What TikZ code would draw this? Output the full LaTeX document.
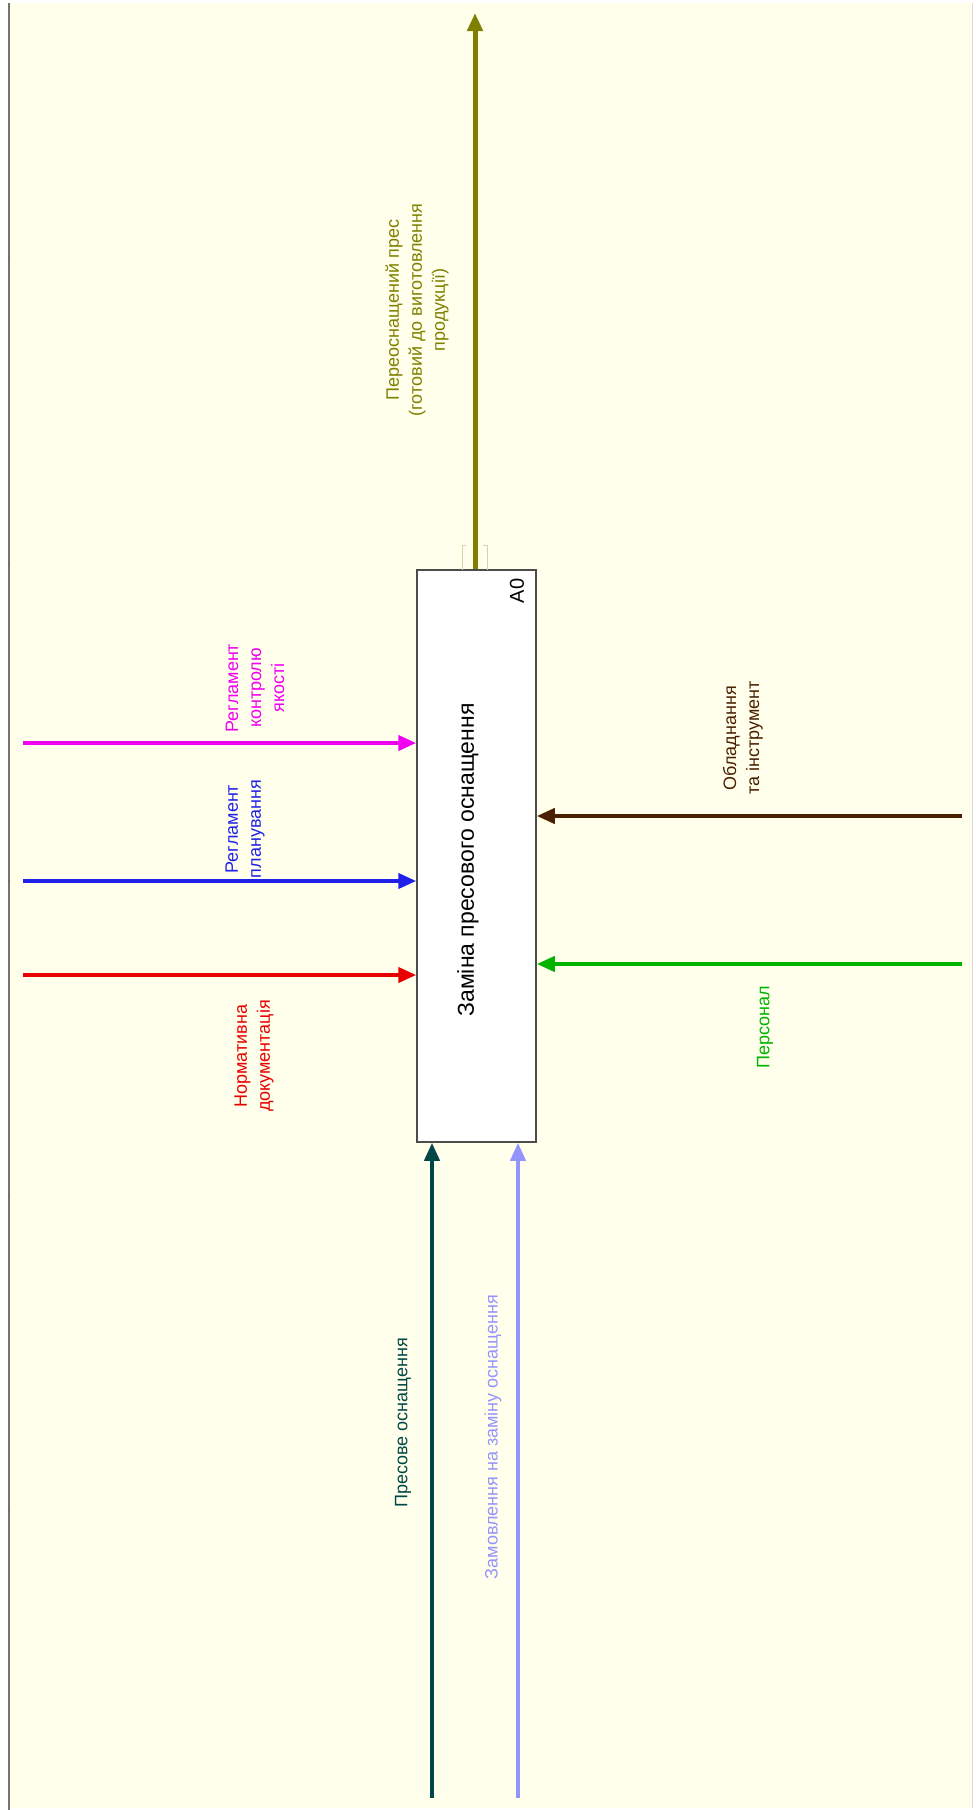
\documentclass[tikz,border=0pt]{standalone}
\usepackage{fontspec}
\setmainfont{Liberation Sans}
\usetikzlibrary{arrows.meta}
\definecolor{bg}{HTML}{FFFFEC}
\definecolor{colive}{HTML}{808000}
\definecolor{cmag}{HTML}{F000F0}
\definecolor{cblue}{HTML}{2020E8}
\definecolor{cred}{HTML}{E80000}
\definecolor{cbrown}{HTML}{4B2000}
\definecolor{cgreen}{HTML}{00B400}
\definecolor{cteal}{HTML}{004848}
\definecolor{clav}{HTML}{9494FF}
\begin{document}
\begin{tikzpicture}[x=1pt,y=-1pt,
  arr/.style={line width=4pt,-{Triangle[width=15pt,length=18pt]}},
  lbl/.style={rotate=90,align=center,font=\fontsize{18}{23}\selectfont}]
\useasboundingbox (0,0) rectangle (975,1810);
\fill[bg] (10,3) rectangle (972,1808);
\draw[line width=2pt,black!55] (9,3) -- (9,1810);
\draw[black!15] (972,3) -- (972,1808);
\foreach \t in {257,563,880,1195,1510} \draw[line width=1pt,black!60] (8,\t) -- (10,\t);

% activity box
\node[draw=black!70, fill=white, line width=1.5pt, minimum width=119pt, minimum height=572pt, inner sep=0pt] (A0) at (476.5,856) {};
\node[rotate=90, font=\fontsize{23}{27}\selectfont] (t0) at (468,860) {Заміна пресового оснащення};
\node[rotate=90, font=\fontsize{20}{24}\selectfont] (n0) at (517,591) {A0};

% controls
\coordinate (c1) at (23,743);
\coordinate (c2) at (23,881);
\coordinate (c3) at (23,975);
\draw[arr,cmag] (c1) -- (c1 -| A0.west);
\draw[arr,cblue] (c2) -- (c2 -| A0.west);
\draw[arr,cred] (c3) -- (c3 -| A0.west);
\node[lbl,cmag] (l1) at (255,688) {Регламент\\контролю\\якості};
\node[lbl,cblue] (l2) at (245,829) {Регламент\\планування};
\node[lbl,cred] (l3) at (254,1056) {Нормативна\\документація};

% mechanisms
\coordinate (m1) at (962,816);
\coordinate (m2) at (962,964);
\draw[arr,cbrown] (m1) -- (m1 -| A0.east);
\draw[arr,cgreen] (m2) -- (m2 -| A0.east);
\node[lbl,cbrown] (l4) at (743,738) {Обладнання\\та інструмент};
\node[lbl,cgreen] (l5) at (765,1027) {Персонал};

% inputs
\coordinate (i1) at (432,1798);
\coordinate (i2) at (518,1798);
\draw[arr,cteal] (i1) -- (i1 |- A0.south);
\draw[arr,clav] (i2) -- (i2 |- A0.south);
\node[lbl,cteal] (l6) at (403,1423) {Пресове оснащення};
\node[lbl,clav] (l7) at (493,1437) {Замовлення на заміну оснащення};

% output
\coordinate (o1) at (475,13);
\draw[arr,line width=5pt,colive] (o1 |- A0.north) -- (o1);
\draw[colive!35,line width=1pt] (466,545) -- (462,545) -- (462,570);
\draw[colive!35,line width=1pt] (483,545) -- (487,545) -- (487,570);
\node[lbl,colive] (l8) at (417,310) {Переоснащений прес\\(готовий до виготовлення\\продукції)};
\end{tikzpicture}
\end{document}
